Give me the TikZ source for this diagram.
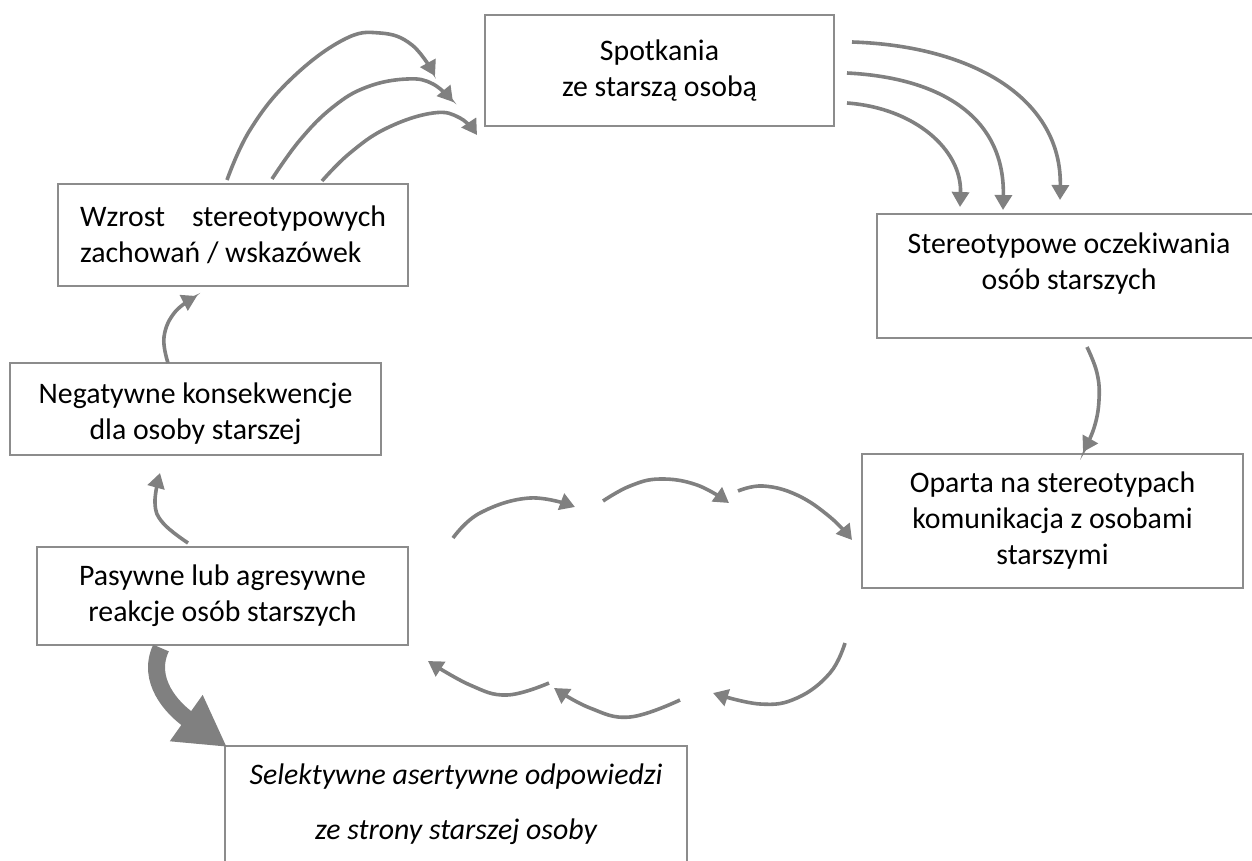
\documentclass[tikz,border=0pt]{standalone}
\usepackage{fontspec}
\setmainfont{Carlito}
\usetikzlibrary{arrows.meta}
\definecolor{arrowgray}{HTML}{808080}
\definecolor{boxgray}{HTML}{8C8C8C}
\newcommand{\toppad}[1]{\rule{0pt}{#1}}
\begin{document}
\begin{tikzpicture}[x=1pt,y=-1pt,
  box/.style={draw=boxgray, line width=2.2pt, align=center, inner sep=0pt,
    font=\fontsize{29.8}{36}\selectfont},
  arr/.style={draw=arrowgray, line width=3.6pt, -{Triangle[length=15pt,width=17pt]}},
  bigarr/.style={draw=arrowgray, line width=17pt, -{Triangle[length=50pt,width=53pt]}},
  curve/.style={smooth, tension=0.7}]
\useasboundingbox (0,0) rectangle (1252,861);
\clip (0,0) rectangle (1252,861);

% boxes
\node[box, minimum width=349pt, minimum height=111pt] (meet) at (659.5,70.5)
  {Spotkania\\ze starszą osobą};
\node[box, minimum width=350pt, minimum height=102pt, text width=306pt, align=justify] (rise) at (233,235)
  {Wzrost\hfill stereotypowych\\zachowań / wskazówek};
\node[box, minimum width=371pt, minimum height=92pt] (neg) at (195.5,409)
  {\toppad{31pt}Negatywne konsekwencje\\dla osoby starszej};
\node[box, minimum width=371pt, minimum height=98pt] (react) at (222.5,596)
  {Pasywne lub agresywne\\reakcje osób starszych};
\node[box, minimum width=384pt, minimum height=124pt] (expect) at (1069,276)
  {\toppad{37pt}Stereotypowe oczekiwania\\osób starszych\\\strut};
\node[box, minimum width=381pt, minimum height=134pt] (comm) at (1052.5,521)
  {Oparta na stereotypach\\komunikacja z osobami\\starszymi};
\node[box, anchor=north, minimum width=462pt, inner ysep=18pt,
  font=\itshape\fontsize{29.8}{55}\selectfont] (assert) at (456,745)
  {Selektywne asertywne odpowiedzi\\ze strony starszej osoby\\\strut};

% arrow end points
\coordinate (r1) at (227,180);  \coordinate (m1) at (435,76);
\coordinate (r2) at (272,179);  \coordinate (m2) at (453,102);
\coordinate (r3) at (322,181);  \coordinate (m3) at (477,135);
\coordinate (s1) at (852,42);   \coordinate (e1) at (1060,200);
\coordinate (s2) at (847,73);   \coordinate (e2) at (1003,210);
\coordinate (s3) at (847,103);  \coordinate (e3) at (960,207);
\coordinate (e4) at (1087,347); \coordinate (c4) at (1083,452);
\coordinate (u1) at (453,538);  \coordinate (u1e) at (575,507);
\coordinate (u2) at (603,501);  \coordinate (u2e) at (729,503);
\coordinate (u3) at (738,491);  \coordinate (c3) at (852,540);
\coordinate (d1) at (845,643);  \coordinate (d1e) at (713,693);
\coordinate (d2) at (680,700);  \coordinate (d2e) at (554,688);
\coordinate (d3) at (549,683);  \coordinate (a3) at (428,661);
\coordinate (n1) at (168,363);  \coordinate (w1) at (197,296);
\coordinate (p1) at (188,543);  \coordinate (n2) at (160,473);
\coordinate (p2) at (161,648);  \coordinate (t2) at (227,747);

% rising stereotypes -> meeting
\draw[arr] plot[curve] coordinates {(r1) (250,130) (290,80) (343,40) (380,33) (412,45) (m1)};
\draw[arr] plot[curve] coordinates {(r2) (300,140) (333,107) (367,87) (407,79) (433,84) (m2)};
\draw[arr] plot[curve] coordinates {(r3) (350,153) (387,128) (433,113) (460,118) (m3)};

% meeting -> expectations
\draw[arr] (s1) .. controls (975,46) and (1062,100) .. (e1);
\draw[arr] (s2) .. controls (945,78) and (1005,120) .. (e2);
\draw[arr] (s3) .. controls (915,108) and (962,150) .. (e3);

% expectations -> communication
\draw[arr] plot[curve] coordinates {(e4) (1097,373) (1099,400) (1094,428) (c4)};

% upper chain towards communication
\draw[arr] plot[curve] coordinates {(u1) (480,513) (530,498) (u1e)};
\draw[arr] plot[curve] coordinates {(u2) (630,486) (660,479) (697,485) (u2e)};
\draw[arr] plot[curve] coordinates {(u3) (763,486) (797,495) (830,517) (c3)};

% lower chain back towards reactions
\draw[arr] plot[curve] coordinates {(d1) (830,673) (797,698) (760,704) (d1e)};
\draw[arr] plot[curve] coordinates {(d2) (630,717) (590,708) (d2e)};
\draw[arr] plot[curve] coordinates {(d3) (507,695) (470,685) (a3)};

% left column
\draw[arr] plot[curve] coordinates {(n1) (164,337) (175,312) (w1)};
\draw[arr] plot[curve] coordinates {(p1) (163,523) (155,503) (n2)};

% reactions -> assertive responses
\draw[bigarr] (p2) .. controls (146,680) and (172,708) .. (t2);
\end{tikzpicture}
\end{document}
